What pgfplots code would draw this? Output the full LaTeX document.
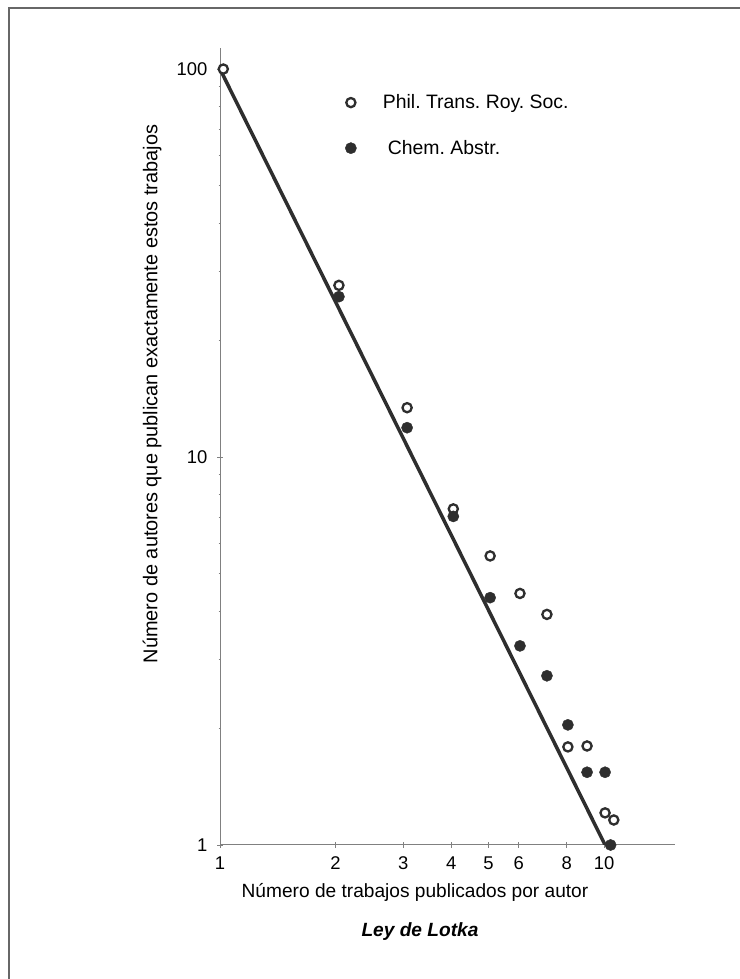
\documentclass[border=0pt]{standalone}
\usepackage{fontspec}
\setmainfont{Liberation Sans}
\usepackage{pgfplots}
\pgfplotsset{compat=1.18}
\definecolor{ink}{HTML}{2E2E2E}
\definecolor{axisgray}{HTML}{808080}
\frenchspacing
\begin{document}
\begin{tikzpicture}
\useasboundingbox (0,0) rectangle (740bp,979bp);
\fill[white] (0,0) rectangle (740bp,979bp);
\draw[axisgray!80!black, line width=1.6bp] (9bp,0) -- (9bp,971bp) -- (740bp,971bp);
\begin{axis}[
  at={(220bp,134bp)}, anchor=south west,
  scale only axis, width=455bp, height=797bp,
  xmode=log, ymode=log,
  xmin=1, xmax=15.3, ymin=1, ymax=113.3,
  enlargelimits=false,
  axis lines=left,
  x axis line style={-, axisgray, line width=1bp},
  y axis line style={-, axisgray, line width=1bp},
  xtick={1,2,3,4,5,6,8,10},
  xticklabels={1,2,3,4,5,6,8,10},
  ytick={1,10,100},
  yticklabels={1,10,100},
  minor xtick={}, minor ytick={},
  tick align=center,
  major tick length=6bp,
  tick style={axisgray, line width=0.8bp},
  /pgf/number format/assume math mode=true,
  tick label style={font=\fontsize{18.5}{20}\selectfont, text=black},
  xticklabel style={yshift=-5bp},
  yticklabel style={xshift=-6bp},
  legend image code/.code={\path[draw=none,fill=none] (-6bp,0) rectangle (30bp,0.1bp); \draw[#1] plot coordinates {(0bp,0bp)};},
  legend style={draw=none, fill=none, at={(axis description cs:0.274,0.944)}, anchor=north west,
     font=\fontsize{19.5}{21}\selectfont, row sep=26bp, inner sep=0pt},
  legend cell align=left,
]
\addplot[ink, line width=3.5bp, forget plot] coordinates {(1,100) (10.06,1)};
\addplot[only marks, mark=*, mark size=4.6bp, mark options={draw=ink, fill=white, line width=2.3bp}]
 coordinates {(1.02,100) (2.04,27.7) (3.07,13.4) (4.05,7.35) (5.05,5.56) (6.04,4.45) (7.1,3.93) (8.05,1.79) (9.03,1.80) (10.06,1.21) (10.6,1.16)};
\addlegendentry{Phil. Trans. Roy. Soc.}
\addplot[only marks, mark=*, mark size=5.6bp, mark options={draw=ink, fill=ink}]
 coordinates {(2.04,25.9) (3.07,11.9) (4.05,7.03) (5.05,4.34) (6.04,3.26) (7.1,2.73) (8.05,2.04) (9.03,1.54) (10.06,1.54) (10.4,1.0)};
\addlegendentry{\hspace{5bp}Chem. Abstr.}
\end{axis}
\node[font=\fontsize{19.2}{21}\selectfont] at (415bp,87bp) {Número de trabajos publicados por autor};
\node[font=\fontsize{19.2}{21}\selectfont\bfseries\itshape] at (420bp,47bp) {Ley de Lotka};
\node[font=\fontsize{20}{22}\selectfont, rotate=90] at (152bp,585bp) {Número de autores que publican exactamente estos trabajos};
\end{tikzpicture}
\end{document}
